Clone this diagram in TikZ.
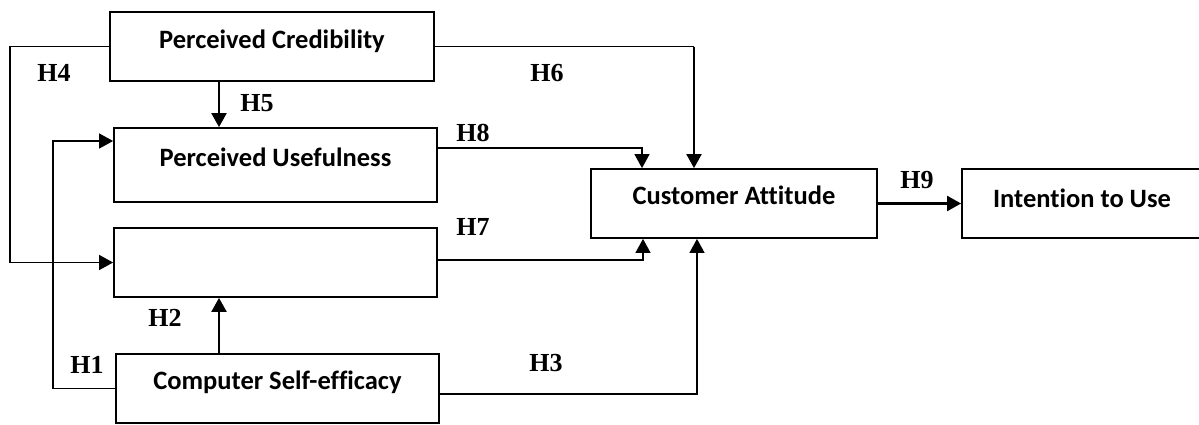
\documentclass[tikz,border=0pt]{standalone}
\usepackage{fontspec}
\newfontfamily\boxfont[Ligatures=NoCommon]{Carlito}
\newfontfamily\hypfont{Liberation Serif}
\usetikzlibrary{arrows.meta,calc}

\begin{document}
\begin{tikzpicture}[x=1pt,y=-1pt,
		box/.style={draw,line width=1.8pt,inner sep=0pt},
		boxtxt/.style={font=\boxfont\fontsize{26.5}{30}\selectfont\bfseries},
		hyp/.style={font=\hypfont\fontsize{26}{30}\selectfont\bfseries},
		link/.style={line width=1.3pt,-{Triangle[length=14pt,width=15pt]}},
		thick link/.style={line width=2.2pt,-{Triangle[length=14pt,width=15pt]}}]
			\useasboundingbox (0,0) rectangle (1199,424);
			\node[box,minimum width=324pt,minimum height=69pt] (pc) at (272,46.5) {};
			\node[boxtxt] (pctxt) at ([yshift=5pt]pc.center) {Perceived Credibility};
			\node[box,minimum width=323pt,minimum height=74pt] (pu) at (275.5,165) {};
			\node[boxtxt] (putxt) at ([yshift=8pt]pu.center) {Perceived Usefulness};
			\node[box,minimum width=323pt,minimum height=69pt] (blank) at (275.5,262.5) {};
			\node[box,minimum width=323pt,minimum height=69pt] (cse) at (277.5,388.5) {};
			\node[boxtxt] (csetxt) at ([yshift=6pt]cse.center) {Computer Self-efficacy};
			\node[box,minimum width=286pt,minimum height=69pt] (ca) at (734,203.5) {};
			\node[boxtxt] (catxt) at ([yshift=8pt]ca.center) {Customer Attitude};
			\node[box,minimum width=240pt,minimum height=69pt] (iu) at (1082,203.5) {};
			\node[boxtxt] (iutxt) at ([yshift=5pt]iu.center) {Intention to Use};
			\coordinate (outer) at (10,0);
			\coordinate (inner) at (53,0);
			\path ([xshift=-40pt]ca.north) coordinate (h6in);
			\draw[link] (pc.west) -- (pc.west -| outer) |- (blank.west);
			\draw[link] (cse.west) -- (cse.west -| inner) |- ([yshift=24pt]pu.west);
			\draw[thick link] ([xshift=-53pt]pc.south) -- ([xshift=-56.5pt]pu.north);
			\draw[thick link] ([xshift=-58.5pt]cse.north) -- ([xshift=-56.5pt]blank.south);
			\draw[line width=1.3pt] (pc.east) -- (pc.east -| h6in);
			\draw[thick link] (pc.east -| h6in) -- (h6in);
			\draw[link] ([yshift=17pt]pu.east) -| ([xshift=-92pt]ca.north);
			\draw[link] ([yshift=2.5pt]blank.east) -| ([xshift=-91pt]ca.south);
			\draw[link] ([yshift=-5.5pt]cse.east) -| ([xshift=-37pt]ca.south);
			\draw[thick link] (ca.east) -- (iu.west);
			\node[hyp] (h4) at (54,73) {H4};
			\node[hyp] (h5) at (257,103) {H5};
			\node[hyp] (h6) at (547,73) {H6};
			\node[hyp] (h8) at (473,133) {H8};
			\node[hyp] (h7) at (473,227) {H7};
			\node[hyp] (h2) at (165,318) {H2};
			\node[hyp] (h1) at (87,365) {H1};
			\node[hyp] (h3) at (546,363) {H3};
			\node[hyp] (h9) at (917,180) {H9};
		\end{tikzpicture}
\end{document}
